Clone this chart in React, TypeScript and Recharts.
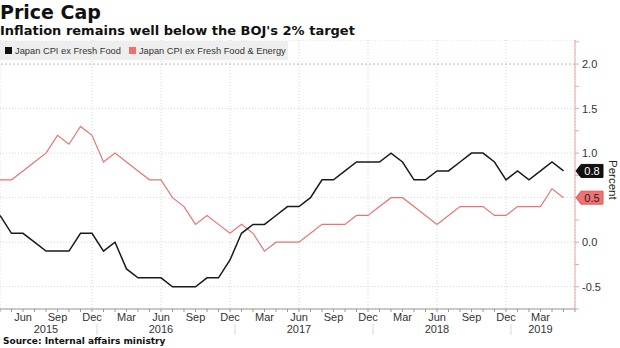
import React from "react";
import {
  LineChart,
  Line,
  XAxis,
  YAxis,
  CartesianGrid,
  ReferenceLine,
  ReferenceDot,
} from "recharts";

// monthly categories, Apr 2015 .. Jun 2019 (last slot is empty, axis runs to it)
const months = [
  "Apr 2015", "May 2015", "Jun 2015", "Jul 2015", "Aug 2015", "Sep 2015", "Oct 2015", "Nov 2015", "Dec 2015",
  "Jan 2016", "Feb 2016", "Mar 2016", "Apr 2016", "May 2016", "Jun 2016", "Jul 2016", "Aug 2016", "Sep 2016", "Oct 2016", "Nov 2016", "Dec 2016",
  "Jan 2017", "Feb 2017", "Mar 2017", "Apr 2017", "May 2017", "Jun 2017", "Jul 2017", "Aug 2017", "Sep 2017", "Oct 2017", "Nov 2017", "Dec 2017",
  "Jan 2018", "Feb 2018", "Mar 2018", "Apr 2018", "May 2018", "Jun 2018", "Jul 2018", "Aug 2018", "Sep 2018", "Oct 2018", "Nov 2018", "Dec 2018",
  "Jan 2019", "Feb 2019", "Mar 2019", "Apr 2019", "May 2019", "Jun 2019",
];

// Japan CPI ex fresh food, % y/y
const cpiExFresh = [
  0.3, 0.1, 0.1, 0.0, -0.1, -0.1, -0.1, 0.1, 0.1,
  -0.1, 0.0, -0.3, -0.4, -0.4, -0.4, -0.5, -0.5, -0.5, -0.4, -0.4, -0.2,
  0.1, 0.2, 0.2, 0.3, 0.4, 0.4, 0.5, 0.7, 0.7, 0.8, 0.9, 0.9,
  0.9, 1.0, 0.9, 0.7, 0.7, 0.8, 0.8, 0.9, 1.0, 1.0, 0.9, 0.7,
  0.8, 0.7, 0.8, 0.9, 0.8,
];

// Japan CPI ex fresh food & energy, % y/y
const cpiExFreshEnergy = [
  0.7, 0.7, 0.8, 0.9, 1.0, 1.2, 1.1, 1.3, 1.2,
  0.9, 1.0, 0.9, 0.8, 0.7, 0.7, 0.5, 0.4, 0.2, 0.3, 0.2, 0.1,
  0.2, 0.1, -0.1, 0.0, 0.0, 0.0, 0.1, 0.2, 0.2, 0.2, 0.3, 0.3,
  0.4, 0.5, 0.5, 0.4, 0.3, 0.2, 0.3, 0.4, 0.4, 0.4, 0.3, 0.3,
  0.4, 0.4, 0.4, 0.6, 0.5,
];

const labelMonths = ["Mar", "Jun", "Sep", "Dec"];
const yearLabelMonths = ["Aug 2015", "Jun 2016", "Jun 2017", "Jun 2018", "Mar 2019"];
const yearLabels = ["2015", "2016", "2017", "2018", "2019"];
const yAxisTicks = [-0.75, -0.5, -0.25, 0, 0.25, 0.5, 0.75, 1, 1.25, 1.5, 1.75, 2, 2.25];
const gridTicks = [-0.5, 0, 0.5, 1, 1.5];
const targetLevel = 2;

const seriesNames = ["Japan CPI ex Fresh Food", "Japan CPI ex Fresh Food & Energy"];
const seriesColors = ["#1a1a1a", "#e87474"];

const data = months.map((m, i) => ({
  m,
  core: cpiExFresh[i] ?? null,
  coreCore: cpiExFreshEnergy[i] ?? null,
}));
const lastMonth = months[months.length - 1];
const quarterTicks = months.filter((m) => labelMonths.includes(m.slice(0, 3)));
const lastCore = cpiExFresh[cpiExFresh.length - 1];
const lastCoreCore = cpiExFreshEnergy[cpiExFreshEnergy.length - 1];

const sans = "'Liberation Sans', Arial, sans-serif";
const bold = "'DejaVu Sans', sans-serif";
const pink = "#f0a3a3";

function MonthTick(props: any) {
  const { x, y, payload } = props;
  const name: string = payload.value;
  const mon = name.slice(0, 3);
  const yi = yearLabelMonths.indexOf(name);
  return (
    <g>
      {labelMonths.includes(mon) && name !== lastMonth && (
        <text x={x} y={y + 7} textAnchor="middle" fontSize={11} fontFamily={sans} fill="#333">
          {mon}
        </text>
      )}
      {yi >= 0 && (
        <text x={x} y={y + 19} textAnchor="middle" fontSize={11} fontFamily={sans} fill="#333">
          {yearLabels[yi]}
        </text>
      )}
      {mon === "Dec" && <line x1={x + 5} x2={x + 5} y1={y + 10} y2={y + 21} stroke="#d8d8d8" />}
    </g>
  );
}

function ValueTick(props: any) {
  const { x, y, payload } = props;
  const v: number = payload.value;
  if (Math.abs(v * 2 - Math.round(v * 2)) > 1e-6) return null;
  // labels hidden behind the last-value tags
  if (Math.abs(v - lastCore) < 0.08 || Math.abs(v - lastCoreCore) < 0.08) return null;
  return (
    <text x={x + 1} y={y + 4} fontSize={11} fontFamily={sans} fill="#333">
      {v.toFixed(1)}
    </text>
  );
}

function badge(fill: string, stroke: string, color: string, value: number) {
  return (p: any) => {
    const { cx, cy } = p;
    const pts = [
      [cx + 1, cy],
      [cx + 6, cy - 6.5],
      [cx + 28, cy - 6.5],
      [cx + 28, cy + 6.5],
      [cx + 6, cy + 6.5],
    ]
      .map((q) => q.join(","))
      .join(" ");
    return (
      <g>
        <polygon points={pts} fill={fill} stroke={stroke} strokeWidth={1} />
        <text x={cx + 17} y={cy + 4} textAnchor="middle" fontSize={11} fontFamily={sans} fill={color}>
          {value.toFixed(1)}
        </text>
      </g>
    );
  };
}

function LegendBox() {
  return (
    <div
      style={{
        width: 288,
        height: 19,
        background: "#eeeeee",
        display: "flex",
        alignItems: "center",
        fontFamily: sans,
        fontSize: 9.3,
        color: "#333",
      }}
    >
      {seriesNames.map((n, i) => (
        <div key={n} style={{ display: "flex", alignItems: "center", marginLeft: i === 0 ? 5 : 8 }}>
          <span style={{ width: 7, height: 7, background: i === 0 ? "#111" : "#f07070", marginRight: 3 }} />
          {n}
        </div>
      ))}
    </div>
  );
}

export default function App() {
  return (
    <div style={{ position: "absolute", left: 0, top: 0, width: 620, height: 348, background: "#fff", overflow: "hidden" }}>
      <div style={{ position: "absolute", left: 0, top: 0, fontFamily: bold, fontWeight: "bold", fontSize: 19, color: "#111", lineHeight: "24px" }}>
        Price Cap
      </div>
      <div style={{ position: "absolute", left: 0, top: 22, fontFamily: bold, fontWeight: "bold", fontSize: 13, color: "#111", lineHeight: "17px" }}>
        Inflation remains well below the BOJ's 2% target
      </div>
      <div style={{ position: "absolute", left: 0, top: 40 }}>
        <LineChart width={620} height={308} data={data} margin={{ top: 0, right: 0, left: 0, bottom: 0 }}>
          <CartesianGrid xAxisId="grid" yAxisId="grid" stroke="#d6d6d6" strokeDasharray="1 2" />
          <XAxis
            xAxisId="main"
            dataKey="m"
            interval={0}
            tick={<MonthTick />}
            tickSize={3}
            tickLine={{ stroke: "#999" }}
            axisLine={{ stroke: "#999" }}
            height={39}
          />
          <XAxis xAxisId="grid" dataKey="m" hide height={0} ticks={quarterTicks} />
          <YAxis
            yAxisId="main"
            orientation="right"
            type="number"
            domain={[-0.75, 2.27]}
            allowDataOverflow
            ticks={yAxisTicks}
            interval={0}
            tick={<ValueTick />}
            tickSize={4}
            tickLine={{ stroke: pink }}
            axisLine={{ stroke: pink }}
            width={45}
          />
          <YAxis yAxisId="grid" hide width={0} type="number" domain={[-0.75, 2.27]} allowDataOverflow ticks={gridTicks} />
          <ReferenceLine xAxisId="main" yAxisId="main" y={targetLevel} stroke={pink} strokeDasharray="2 2" />
          <Line
            xAxisId="main"
            yAxisId="main"
            dataKey="coreCore"
            name={seriesNames[1]}
            stroke={seriesColors[1]}
            strokeWidth={1.2}
            dot={false}
            isAnimationActive={false}
          />
          <Line
            xAxisId="main"
            yAxisId="main"
            dataKey="core"
            name={seriesNames[0]}
            stroke={seriesColors[0]}
            strokeWidth={1.5}
            dot={false}
            isAnimationActive={false}
          />
          <ReferenceDot
            xAxisId="main"
            yAxisId="main"
            x={lastMonth}
            y={lastCore}
            ifOverflow="visible"
            shape={badge("#111", "#111", "#fff", lastCore)}
          />
          <ReferenceDot
            xAxisId="main"
            yAxisId="main"
            x={lastMonth}
            y={lastCoreCore}
            ifOverflow="visible"
            shape={badge("#f27171", "#d85a5a", "#222", lastCoreCore)}
          />
        </LineChart>
      </div>
      <div style={{ position: "absolute", left: 0, top: 41 }}>
        <LegendBox />
      </div>
      <div
        style={{
          position: "absolute",
          left: 606,
          top: 160,
          writingMode: "vertical-rl",
          fontFamily: sans,
          fontSize: 11.5,
          lineHeight: "13px",
          color: "#222",
        }}
      >
        Percent
      </div>
      <div style={{ position: "absolute", left: 3, top: 336, fontFamily: bold, fontWeight: "bold", fontSize: 9, color: "#111" }}>
        Source: Internal affairs ministry
      </div>
    </div>
  );
}
